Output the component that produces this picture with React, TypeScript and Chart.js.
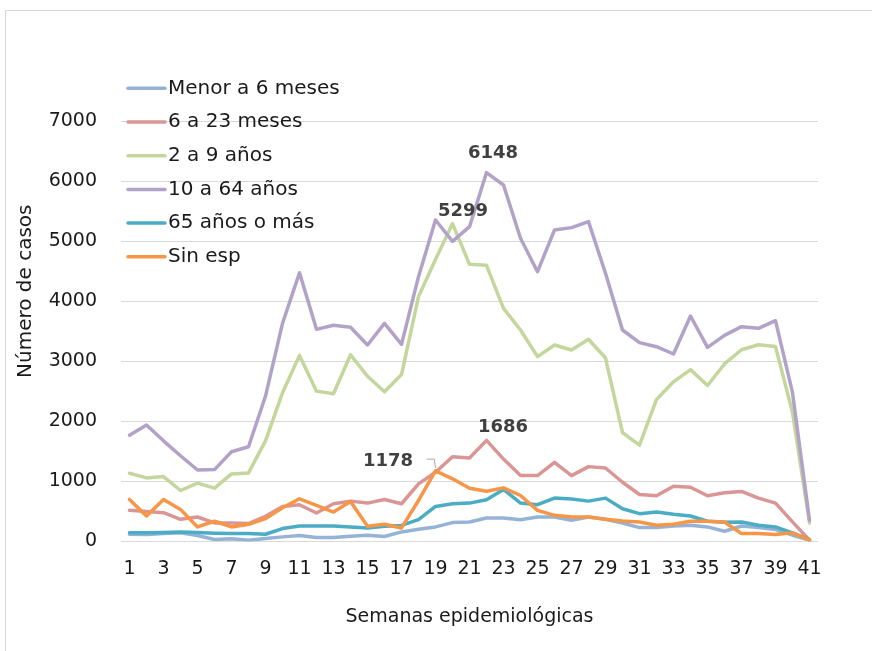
import { useEffect, useRef } from "react";
import { Chart, registerables } from "chart.js";

Chart.register(...registerables);

// ---------- Data ----------
const semanas = [
  "1", "2", "3", "4", "5", "6", "7", "8", "9", "10",
  "11", "12", "13", "14", "15", "16", "17", "18", "19", "20",
  "21", "22", "23", "24", "25", "26", "27", "28", "29", "30",
  "31", "32", "33", "34", "35", "36", "37", "38", "39", "40", "41",
];

const xTickLabels = ["1", "3", "5", "7", "9", "11", "13", "15", "17", "19", "21", "23", "25", "27", "29", "31", "33", "35", "37", "39", "41"];
const yTickValues = [0, 1000, 2000, 3000, 4000, 5000, 6000, 7000];

const seriesNames = ["Menor a 6 meses", "6 a 23 meses", "2 a 9 años", "10 a 64 años", "65 años o más", "Sin esp"];

const menor6Meses = [121, 116, 132, 144, 99, 33, 44, 22, 50, 77, 99, 66, 66, 88, 105, 83, 160, 204, 243, 315, 326, 392, 392, 364, 408, 408, 353, 408, 370, 309, 232, 232, 259, 270, 243, 171, 259, 232, 199, 105, 22];
const de6a23Meses = [519, 502, 480, 370, 408, 309, 309, 298, 420, 585, 613, 475, 629, 673, 640, 701, 629, 960, 1154, 1413, 1391, 1686, 1374, 1098, 1098, 1319, 1098, 1248, 1225, 988, 784, 762, 922, 905, 762, 811, 834, 723, 640, 326, 22];
const de2a9Anos = [1137, 1060, 1082, 850, 972, 889, 1126, 1143, 1678, 2478, 3102, 2506, 2462, 3113, 2754, 2495, 2782, 4081, 4700, 5299, 4619, 4603, 3886, 3525, 3081, 3275, 3192, 3370, 3058, 1816, 1606, 2368, 2661, 2865, 2600, 2959, 3196, 3279, 3251, 2150, 309];
const de10a64Anos = [1772, 1943, 1678, 1430, 1192, 1198, 1496, 1579, 2423, 3636, 4480, 3536, 3603, 3570, 3275, 3636, 3286, 4414, 5358, 5003, 5247, 6148, 5942, 5053, 4497, 5192, 5231, 5331, 4470, 3525, 3314, 3247, 3125, 3758, 3236, 3436, 3581, 3553, 3680, 2480, 353];
const de65oMas = [144, 144, 149, 160, 149, 138, 132, 132, 121, 215, 259, 259, 259, 243, 226, 254, 268, 364, 585, 629, 640, 696, 867, 640, 613, 723, 707, 673, 723, 546, 464, 491, 453, 425, 337, 320, 326, 270, 243, 144, 33];
const sinEsp = [701, 425, 701, 535, 243, 337, 243, 287, 381, 563, 712, 602, 491, 668, 254, 287, 226, 684, 1178, 1045, 889, 839, 894, 767, 519, 436, 408, 408, 370, 342, 326, 270, 287, 337, 337, 326, 132, 132, 116, 144, 22];

const seriesValues = [menor6Meses, de6a23Meses, de2a9Anos, de10a64Anos, de65oMas, sinEsp];
const seriesColors = ["#95B3D7", "#D99694", "#C3D69B", "#B3A2C7", "#4BACC6", "#F79646"];

// ---------- Layout ----------
const W = 872;
const H = 651;
const PLOT_LEFT = 121;
const PLOT_RIGHT = 818;
const Y_TOP_TICK_PX = 121.5;
const Y_ZERO_PX = 541.5;
const AREA_TOP = 41;
const FONT = '"DejaVu Sans", sans-serif';
const TEXT = "#1a1a1a";

// Legend drawn over the plot (top-left), as in the original figure
const legendPlugin = {
  id: "overlayLegend",
  afterDraw(chart: any) {
    const ctx = chart.ctx;
    const x0 = 128;
    const lineLen = 37;
    const firstY = 88.3;
    const step = 33.7;
    ctx.save();
    chart.data.datasets.forEach((ds: any, i: number) => {
      const y = firstY + i * step;
      ctx.strokeStyle = ds.borderColor;
      ctx.lineWidth = 3.5;
      ctx.lineCap = "round";
      ctx.beginPath();
      ctx.moveTo(x0, y);
      ctx.lineTo(x0 + lineLen, y);
      ctx.stroke();
      ctx.font = `20px ${FONT}`;
      ctx.fillStyle = TEXT;
      ctx.textAlign = "left";
      ctx.textBaseline = "middle";
      ctx.fillText(ds.label, x0 + lineLen + 3, y);
    });
    ctx.restore();
  },
};

const calloutPlugin = {
  id: "callouts",
  afterDatasetsDraw(chart: any) {
    const items = [
      { ds: 3, week: "22", dx: 6.5, dy: -19, leader: false },
      { ds: 2, week: "20", dx: 10.5, dy: -12.7, leader: false },
      { ds: 1, week: "22", dx: 16.5, dy: -13, leader: false },
      { ds: 5, week: "19", dx: -47.5, dy: -9.3, leader: true },
    ];
    const ctx = chart.ctx;
    ctx.save();
    for (const it of items) {
      const idx = semanas.indexOf(it.week);
      const pt = chart.getDatasetMeta(it.ds).data[idx];
      const value = chart.data.datasets[it.ds].data[idx];
      if (it.leader) {
        ctx.strokeStyle = "#a6a6a6";
        ctx.lineWidth = 1;
        ctx.beginPath();
        ctx.moveTo(pt.x - 8.8, pt.y - 11.7);
        ctx.lineTo(pt.x - 1.2, pt.y - 11.7);
        ctx.lineTo(pt.x, pt.y - 2.7);
        ctx.stroke();
      }
      ctx.font = `bold 18px ${FONT}`;
      ctx.fillStyle = "#404040";
      ctx.textAlign = "center";
      ctx.textBaseline = "middle";
      ctx.fillText(String(value), pt.x + it.dx, pt.y + it.dy);
    }
    ctx.restore();
  },
};

export default function App() {
  const canvasRef = useRef<HTMLCanvasElement>(null);

  useEffect(() => {
    if (!canvasRef.current) return;
    Chart.defaults.font.family = FONT;
    const yMax = (yTickValues[yTickValues.length - 1] * (Y_ZERO_PX - AREA_TOP)) / (Y_ZERO_PX - Y_TOP_TICK_PX);

    const chart = new Chart(canvasRef.current, {
      type: "line",
      data: {
        labels: semanas,
        datasets: seriesValues.map((vals, i) => ({
          label: seriesNames[i],
          data: vals,
          borderColor: seriesColors[i],
          backgroundColor: seriesColors[i],
          borderWidth: 3.5,
          pointRadius: 0,
          pointHoverRadius: 0,
          tension: 0,
          borderJoinStyle: "round" as const,
          borderCapStyle: "round" as const,
          fill: false,
          order: seriesValues.length - i,
        })),
      },
      options: {
        animation: false,
        responsive: true,
        maintainAspectRatio: false,
        layout: { padding: { left: 0, right: W - PLOT_RIGHT, top: AREA_TOP, bottom: 0 } },
        plugins: {
          tooltip: { enabled: false },
          legend: { display: false },
        },
        scales: {
          x: {
            type: "category",
            offset: true,
            grid: { display: false, drawTicks: false },
            border: { display: false },
            ticks: {
              autoSkip: false,
              maxRotation: 0,
              minRotation: 0,
              padding: 16.1,
              color: TEXT,
              font: { size: 19, family: FONT, lineHeight: 1.2 },
              callback: (_v: any, i: number) => (xTickLabels.includes(semanas[i]) ? semanas[i] : ""),
            },
            title: {
              display: true,
              text: "Semanas epidemiológicas",
              color: TEXT,
              font: { size: 19, family: FONT, lineHeight: 1.2 },
              padding: { top: 9.1, bottom: 22.6 },
            },
          },
          y: {
            type: "linear",
            min: 0,
            max: yMax,
            afterBuildTicks: (scale: any) => {
              scale.ticks = yTickValues.map((v) => ({ value: v }));
            },
            grid: { color: "#d9d9d9", lineWidth: 1, drawTicks: false },
            border: { display: false },
            ticks: {
              padding: 24,
              color: TEXT,
              font: { size: 19, family: FONT },
              callback: (v: any) => String(v),
            },
            title: {
              display: true,
              text: "Número de casos",
              color: TEXT,
              font: { size: 20, family: FONT },
              padding: { top: 14, bottom: 0 },
            },
            afterFit: (scale: any) => {
              scale.width = PLOT_LEFT;
            },
          },
        },
      },
      plugins: [calloutPlugin, legendPlugin],
    } as any);

    return () => chart.destroy();
  }, []);

  return (
    <div style={{ position: "fixed", left: 0, top: 0, width: W, height: H, overflow: "hidden", background: "#ffffff" }}>
      <div
        style={{
          position: "absolute",
          left: 5,
          top: 10,
          width: W + 40,
          height: H + 40,
          border: "1.5px solid #d6d6d6",
          boxSizing: "border-box",
        }}
      />
      <div style={{ position: "absolute", left: 0, top: 0, width: W, height: H }}>
        <canvas ref={canvasRef} />
      </div>
    </div>
  );
}
